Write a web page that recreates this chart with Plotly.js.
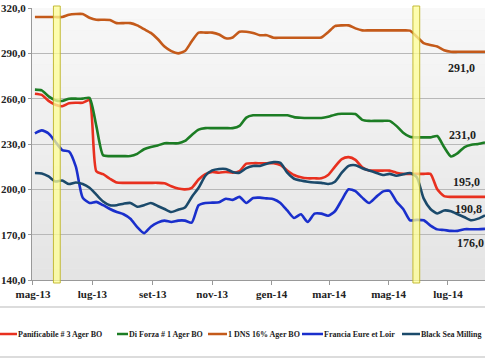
<!DOCTYPE html>
<html><head><meta charset="utf-8">
<script src="https://cdn.plot.ly/plotly-3.0.1.min.js"></script>
<style>html,body{margin:0;padding:0;background:#fff}#chart{width:485px;height:360px}</style>
</head><body><div id="chart"></div>
<script>
const dates = ['2013-05-03','2013-05-10','2013-05-17','2013-05-24','2013-05-31','2013-06-07','2013-06-14','2013-06-21','2013-06-28','2013-07-05',
'2013-07-12','2013-07-19','2013-07-26','2013-08-02','2013-08-09','2013-08-16','2013-08-23','2013-08-30','2013-09-06','2013-09-13',
'2013-09-20','2013-09-27','2013-10-04','2013-10-11','2013-10-18','2013-10-25','2013-11-01','2013-11-08','2013-11-15','2013-11-22',
'2013-11-29','2013-12-06','2013-12-13','2013-12-20','2013-12-27','2014-01-03','2014-01-10','2014-01-17','2014-01-24','2014-01-31',
'2014-02-07','2014-02-14','2014-02-21','2014-02-28','2014-03-07','2014-03-14','2014-03-21','2014-03-28','2014-04-04','2014-04-11',
'2014-04-18','2014-04-25','2014-05-02','2014-05-09','2014-05-16','2014-05-23','2014-05-30','2014-06-06','2014-06-13','2014-06-20',
'2014-06-27','2014-07-04','2014-07-11','2014-07-18','2014-07-25','2014-08-01','2014-08-08'];

const panificabile = [263.3,262.5,258.5,256,255,257,257.3,257.3,259,212,
210,207,204.5,204.3,204.3,204.3,204.3,204.3,204.3,204,
202,200.5,200,201,206.5,210,211.5,211,211.5,211,
212,217,217.3,217.3,217.3,217.3,216,212.5,209.5,208,
207.3,207.3,207.3,209.5,215,220,221.3,219.5,214.5,212.5,
212.4,212.4,212.4,211,210.2,210.2,210.2,210.2,210.2,200,
195.5,195,195,195,195,195,195];

const diForza = [266,265.5,261.5,259,258.5,260,260,260,260.5,242,
222.5,222,222,222,222,223.5,226.5,228,229,230.5,
230.5,230.5,232,236,239.5,240.5,240.5,240.5,240.5,240.5,
242,247.5,249,249,249,249,249,249,247.8,247.4,
247.2,247.2,247.2,248,249.4,250,250,249.8,246,245.3,
245.3,245.3,245.3,242,237.5,234.8,234.4,234.4,234.4,235.3,
228,221.8,224,228,229.5,230,231];

const dns = [314,314,314,314,314,315.5,316,316,313.5,312.2,
312.2,312,310,310,310,308.5,306,303.5,299.5,294.5,
291.5,290,291.5,298,303.7,303.7,303.7,302.5,300,300.5,
304.3,304.3,303.5,302,302,300.3,300.3,300.3,300.3,300.3,
300.3,300.3,300.5,304,308,308.5,308.5,306.5,305.2,305.2,
305.2,305.2,305.2,305.2,305.2,305,301,296.8,295.5,294.5,
292,291,291,291,291,291,291];

const francia = [237,239,237,231.5,226,225,215,194.5,191,191.7,
189.5,187,185,183.5,180.5,175,171,175.3,178,179.3,
178.4,179.3,179.3,178,189.5,191,191.2,191.5,193.8,193,
195,191,194.3,194.5,194,193.5,191,186,181,183.5,
178.4,183.9,183.9,182.5,185.5,193,200,198.8,194.5,191,
194.8,198.5,199,192,187,179.5,179.8,179.5,176,173.5,
173.1,172.5,172.5,173.6,173.6,173.6,173.8];

const blackSea = [210.8,210.5,208.5,205.2,205.8,203.5,204.5,203.5,201,196.5,
192,189.5,189.5,190.5,191,188.5,189.5,191,189,187,
185,186.5,188,195,201,209,212.5,213.5,213.5,211.5,
211,214,215.5,215.5,217,218,217.5,211,207,205.8,
205,204.5,204.3,203.5,205,211,215.5,216,214,212.5,
211,209.5,210.2,209,210,210.8,208,194,187,184,
186,185.5,183.5,181.5,179.5,180.6,182.8];

const seriesNames = ['Panificabile # 3 Ager BO','Di Forza # 1 Ager BO','1 DNS 16% Ager BO','Francia Eure et Loir','Black Sea Milling'];
const seriesColors = ['#e8301f','#1c7d24','#c45a1a','#1a2fcc','#1b4a6b'];
const monthTicks = ['2013-05-01','2013-07-01','2013-09-01','2013-11-01','2014-01-01','2014-03-01','2014-05-01','2014-07-01'];
const monthLabels = ['mag-13','lug-13','set-13','nov-13','gen-14','mar-14','mag-14','lug-14'];
const yTicks = [140,170,200,230,260,290,320];
const endLabels = ['291,0','231,0','195,0','190,8','176,0'];
const markerPeriods = [['2013-05-22','2013-05-29'],['2014-05-26','2014-06-02']];

const W = 485, H = 360, ML = 32, MR = 0, MT = 8, MB = 80;
const PW = W - ML - MR, PH = H - MT - MB;
const px = v => (v - ML) / PW;
const py = v => (MT + PH - v) / PH;
const serif = 'Liberation Serif, Times New Roman, serif';

const allSeries = [panificabile, diForza, dns, francia, blackSea];
const traces = allSeries.map((vals, i) => ({
  type: 'scatter', mode: 'lines', x: dates, y: vals, name: seriesNames[i],
  line: {color: seriesColors[i], width: 2.6, shape: 'spline', smoothing: 0.6},
  showlegend: false, hoverinfo: 'skip'
}));

const shapes = [];
// background gradient bands
const nb = 24;
for (let i = 0; i < nb; i++) {
  const t = i / (nb - 1);
  const c = Math.round(248 - t * 20);
  shapes.push({type: 'rect', xref: 'paper', yref: 'paper', x0: 0, x1: 1,
    y0: 1 - (i + 1) / nb, y1: 1 - i / nb, fillcolor: `rgb(${c},${c},${c})`,
    line: {width: 0}, layer: 'below'});
}
markerPeriods.forEach(p => shapes.push({type: 'rect', xref: 'x', yref: 'paper',
  x0: p[0], x1: p[1], y0: py(283), y1: py(6),
  fillcolor: 'rgba(255,255,150,0.75)', line: {color: 'rgba(190,180,40,0.9)', width: 1}, layer: 'above'}));
// legend separators
shapes.push({type: 'line', xref: 'paper', yref: 'paper', x0: px(0), x1: px(485), y0: py(307), y1: py(307), line: {color: '#d0d0d0', width: 1.5}});
shapes.push({type: 'line', xref: 'paper', yref: 'paper', x0: px(0), x1: px(485), y0: py(357), y1: py(357), line: {color: '#d0d0d0', width: 1.5}});

const legendSwatch = [[0,17],[117,128],[208,227],[302,323],[402,420]];
const annotations = [];
seriesNames.forEach((n, i) => {
  shapes.push({type: 'line', xref: 'paper', yref: 'paper', x0: px(legendSwatch[i][0]), x1: px(legendSwatch[i][1]),
    y0: py(334), y1: py(334), line: {color: seriesColors[i], width: 2.5}});
  annotations.push({xref: 'paper', yref: 'paper', x: px(legendSwatch[i][1]), y: py(334), xanchor: 'left', yanchor: 'middle',
    text: n, showarrow: false, borderpad: 0, font: {family: serif, size: 8, color: '#222', weight: 'bold'}});
});
const endPos = [[461,68],[462,135],[466,182],[468,209],[470,243]];
endLabels.forEach((t, i) => annotations.push({xref: 'paper', yref: 'paper', x: px(endPos[i][0]), y: py(endPos[i][1]),
  xanchor: 'center', yanchor: 'middle', text: t, showarrow: false, borderpad: 0,
  font: {family: serif, size: 12, color: '#222', weight: 'bold'}}));

const layout = {
  width: W, height: H, margin: {l: ML, r: MR, t: MT, b: MB, pad: 0},
  paper_bgcolor: '#ffffff', plot_bgcolor: '#eeeeee', separators: ',.',
  showlegend: false,
  xaxis: {type: 'date', range: ['2013-04-30', '2014-08-08'], tickvals: monthTicks, ticktext: monthLabels,
    ticks: 'outside', ticklen: 4, tickcolor: '#999', showline: true, linecolor: '#999', linewidth: 1,
    showgrid: false, zeroline: false, tickfont: {family: serif, size: 11, color: '#222', weight: 'bold'}},
  yaxis: {range: [140, 320], tickvals: yTicks, tickformat: '.1f', ticks: 'outside', ticklen: 3, tickcolor: '#999',
    showline: true, linecolor: '#999', linewidth: 1, showgrid: true, gridcolor: '#b8b8b8', gridwidth: 1, zeroline: false,
    tickfont: {family: serif, size: 11, color: '#222', weight: 'bold'}},
  shapes: shapes, annotations: annotations
};
Plotly.newPlot('chart', traces, layout, {staticPlot: true, displayModeBar: false});
</script></body></html>
